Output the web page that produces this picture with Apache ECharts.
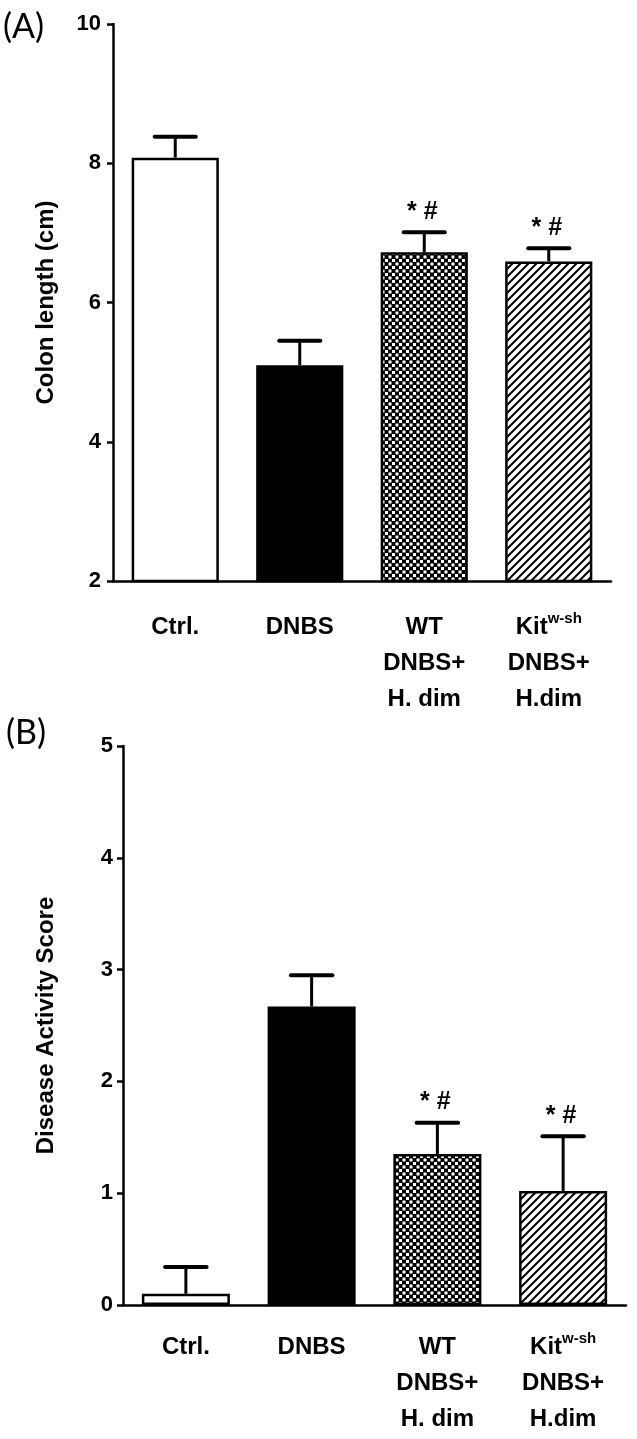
<!DOCTYPE html>
<html><head><meta charset="utf-8">
<script src="https://cdn.jsdelivr.net/npm/echarts@6/dist/echarts.min.js"></script>
<style>html,body{margin:0;padding:0;background:#fff}#c{width:637px;height:1439px}</style>
</head><body><div id="c"></div>
<script>
// ---- data ----
const categories = ['Ctrl.', 'DNBS', 'WT\nDNBS+\nH. dim', 'Kit\nDNBS+\nH.dim'];
const colonLength = [8.08, 5.10, 6.72, 6.59];
const colonLengthErr = [0.30, 0.35, 0.29, 0.19];
const colonMarks = ['', '', '* #', '* #'];
const daiScore = [0.10, 2.67, 1.35, 1.02];
const daiScoreErr = [0.24, 0.28, 0.28, 0.49];
const daiMarks = ['', '', '* #', '* #'];
const colonTicks = { min: 2, max: 10, interval: 2 };
const daiTicks = { min: 0, max: 5, interval: 1 };

// ---- patterns ----
function checker() {
  const c = document.createElement('canvas'); c.width = 7; c.height = 7;
  const g = c.getContext('2d');
  g.fillStyle = '#000'; g.fillRect(0, 0, 7, 7);
  g.fillStyle = '#fff'; g.fillRect(0, 0, 3, 3); g.fillRect(3.5, 3.5, 3, 3);
  return c;
}
function hatch() {
  const s = 8;
  const c = document.createElement('canvas'); c.width = s; c.height = s;
  const g = c.getContext('2d');
  g.fillStyle = '#fff'; g.fillRect(0, 0, s, s);
  g.strokeStyle = '#000'; g.lineWidth = 2;
  g.beginPath();
  g.moveTo(-2, s + 2); g.lineTo(s + 2, -2);
  g.moveTo(-2, 2); g.lineTo(2, -2);
  g.moveTo(s - 2, s + 2); g.lineTo(s + 2, s - 2);
  g.stroke();
  return c;
}
const fills = ['#ffffff', '#000000', { image: checker(), repeat: 'repeat' }, { image: hatch(), repeat: 'repeat' }];

const FONT = '"Liberation Sans", Arial, sans-serif';

function catLabel(v) {
  return v.split('\n').map(l => l === 'Kit' ? '{n|Kit}{sup|w-sh}' : '{n|' + l + '}').join('\n');
}

function errRender(marks) {
  return function (params, api) {
    const i = api.value(0), v = api.value(1), e = api.value(2);
    const base = api.coord([i, v]);
    const top = api.coord([i, v + e]);
    const bw = api.size([1, 0])[0];
    const cap = bw * 0.33;
    const ch = [
      { type: 'line', shape: { x1: base[0], y1: base[1], x2: top[0], y2: top[1] }, style: { stroke: '#000', lineWidth: 3 } },
      { type: 'line', shape: { x1: top[0] - cap / 2, y1: top[1], x2: top[0] + cap / 2, y2: top[1] }, style: { stroke: '#000', lineWidth: 4, lineCap: 'round' } }
    ];
    const m = marks[params.dataIndex];
    if (m) ch.push({ type: 'text', x: top[0] - 2, y: top[1] - 8, style: { text: m, fill: '#000', font: 'bold 25px ' + FONT, align: 'center', verticalAlign: 'bottom' } });
    return { type: 'group', children: ch };
  };
}

function xAxisCfg(gi, margin) {
  return {
    gridIndex: gi, type: 'category', data: categories,
    axisLine: { lineStyle: { color: '#000', width: 2.5 } },
    axisTick: { alignWithLabel: true, length: 7, lineStyle: { color: '#000', width: 2.5 } },
    axisLabel: {
      margin: margin, formatter: catLabel, interval: 0,
      rich: {
        n: { fontFamily: FONT, fontWeight: 'bold', fontSize: 24, color: '#000', lineHeight: 36 },
        sup: { fontFamily: FONT, fontWeight: 'bold', fontSize: 15, color: '#000', lineHeight: 36, padding: [0, 0, 16, 0] }
      }
    }
  };
}
function yAxisCfg(gi, ticks, name, gap, margin) {
  return {
    gridIndex: gi, type: 'value', min: ticks.min, max: ticks.max, interval: ticks.interval,
    name: name, nameLocation: 'middle', nameGap: gap, nameRotate: 90,
    nameTextStyle: { fontFamily: FONT, fontWeight: 'bold', fontSize: 24, color: '#000' },
    splitLine: { show: false },
    axisLine: { show: true, lineStyle: { color: '#000', width: 2.5 } },
    axisTick: { show: true, length: 6, lineStyle: { color: '#000', width: 2.5 } },
    axisLabel: { margin: margin, fontFamily: FONT, fontWeight: 'bold', fontSize: 22, color: '#000' }
  };
}
function barSeries(idx, vals) {
  return {
    type: 'bar', xAxisIndex: idx, yAxisIndex: idx, barCategoryGap: '30%',
    data: vals.map((v, i) => ({ value: v, itemStyle: { color: fills[i] } })),
    itemStyle: { borderColor: '#000', borderWidth: 2.5 },
    emphasis: { disabled: true }, z: 2
  };
}
function errSeries(idx, vals, errs, marks) {
  return {
    type: 'custom', xAxisIndex: idx, yAxisIndex: idx, z: 3,
    renderItem: errRender(marks),
    data: vals.map((v, i) => [i, v, errs[i]])
  };
}

const chart = echarts.init(document.getElementById('c'), null, { renderer: 'canvas' });
chart.setOption({
  animation: false,
  backgroundColor: '#fff',
  grid: [
    { left: 113, right: 26, top: 24, height: 557 },
    { left: 123, right: 11, top: 746, height: 559 }
  ],
  xAxis: [xAxisCfg(0, 28), xAxisCfg(1, 24)],
  yAxis: [
    yAxisCfg(0, colonTicks, 'Colon length (cm)', 55, 12),
    yAxisCfg(1, daiTicks, 'Disease Activity Score', 65, 10)
  ],
  graphic: [
    { type: 'text', left: 3, top: 10, style: { text: '(A)', font: '34px Lato, "Open Sans", sans-serif', fill: '#000' } },
    { type: 'text', left: 6, top: 716, style: { text: '(B)', font: '34px Lato, "Open Sans", sans-serif', fill: '#000' } }
  ],
  series: [
    barSeries(0, colonLength),
    errSeries(0, colonLength, colonLengthErr, colonMarks),
    barSeries(1, daiScore),
    errSeries(1, daiScore, daiScoreErr, daiMarks)
  ]
});
</script>
</body></html>
